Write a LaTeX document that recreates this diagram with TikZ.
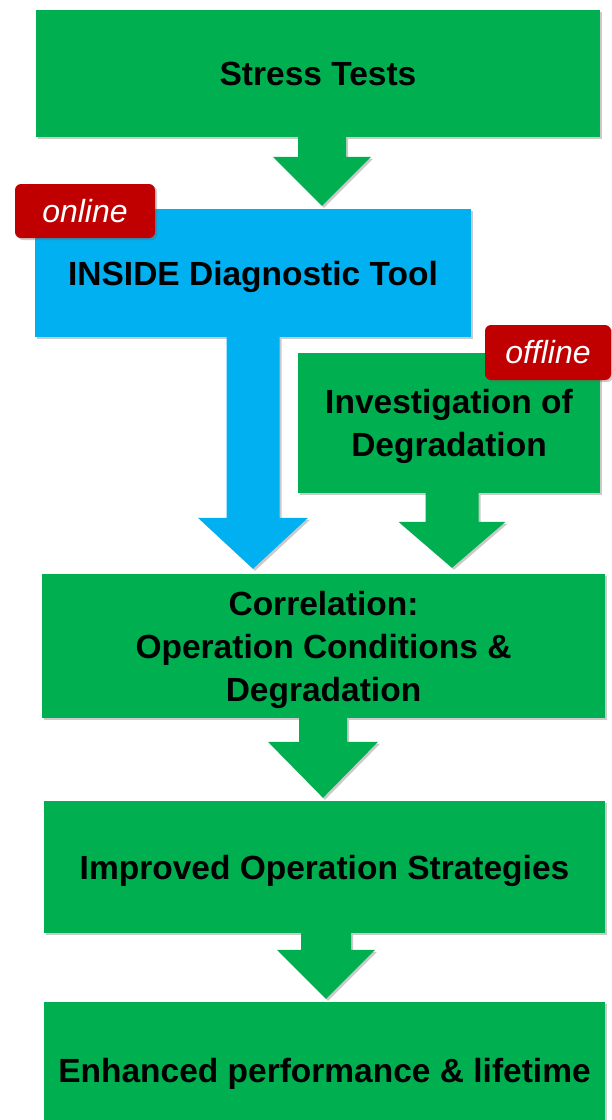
\documentclass[tikz,border=0pt]{standalone}
\usepackage{fontspec}
\setmainfont{Liberation Sans}
\usetikzlibrary{calc,shadows}
\definecolor{pgreen}{RGB}{0,176,80}
\definecolor{pblue}{RGB}{0,176,240}
\definecolor{pred}{RGB}{192,0,0}
\tikzset{
  boxshadow/.style={drop shadow={shadow xshift=2pt,shadow yshift=-2pt,opacity=0.35,fill=black!60}},
  stepbox/.style={rectangle,fill=pgreen,boxshadow,inner sep=0pt,align=center,text depth=0pt,
    font=\fontsize{33.5}{43}\selectfont\bfseries,text=black},
  bluebox/.style={stepbox,fill=pblue},
  tagbox/.style={rectangle,rounded corners=6pt,fill=pred,boxshadow,inner sep=0pt,
    font=\fontsize{32}{36}\selectfont\itshape,text=white},
  garrow/.style={fill=pgreen,boxshadow},
  barrow/.style={fill=pblue,boxshadow}
}
% #1 style, #2 coordinate giving the x, #3 from node, #4 to node,
% #5 shaft half width, #6 head half width, #7 head length above target, #8 tip gap
\newcommand\blockarrow[8]{%
  \fill[#1] ($(#3.south -| #2)+(-#5,0)$) -- ($(#3.south -| #2)+(#5,0)$)
    -- ($(#4.north -| #2)+(#5,-#7)$) -- ($(#4.north -| #2)+(#6,-#7)$)
    -- ($(#4.north -| #2)+(0,-#8)$)
    -- ($(#4.north -| #2)+(-#6,-#7)$) -- ($(#4.north -| #2)+(-#5,-#7)$) -- cycle;}
\begin{document}
\begin{tikzpicture}[x=1pt,y=-1pt]
\useasboundingbox (0,0) rectangle (611,1120);
% boxes
\node[stepbox,minimum width=564pt,minimum height=127pt] (stress) at (318,73.5) {Stress Tests};
\node[bluebox,minimum width=436pt,minimum height=128pt] (inside) at (253,273) {INSIDE Diagnostic Tool};
\node[stepbox,minimum width=302pt,minimum height=140pt] (invest) at (449,423) {Investigation of\\Degradation};
\node[stepbox,minimum width=563pt,minimum height=144pt] (corr) at (323.5,646) {Correlation:\\Operation Conditions \&\\Degradation};
\node[stepbox,minimum width=561pt,minimum height=132pt] (improved) at (324.5,867) {Improved Operation Strategies};
\node[stepbox,minimum width=561pt,minimum height=136pt] (enhanced) at (324.5,1070) {Enhanced performance \& lifetime};
% x positions of the arrows
\coordinate (xa) at (322,0);
\coordinate (xb) at (253,0);
\coordinate (xc) at (452,0);
\coordinate (xd) at (323,0);
\coordinate (xe) at (326,0);
% arrows
\blockarrow{garrow}{xa}{stress}{inside}{24}{49}{52}{3}
\blockarrow{barrow}{xb}{inside}{corr}{26.5}{55}{56}{5}
\blockarrow{garrow}{xc}{invest}{corr}{26.5}{53.5}{52}{6}
\blockarrow{garrow}{xd}{corr}{improved}{24}{55}{59}{3}
\blockarrow{garrow}{xe}{improved}{enhanced}{25}{49}{52}{3}
% tags
\node[tagbox,minimum width=140pt,minimum height=54pt] (online) at (85,211) {online};
\node[tagbox,minimum width=126pt,minimum height=55pt] (offline) at (548,352.5) {offline};
\end{tikzpicture}
\end{document}
